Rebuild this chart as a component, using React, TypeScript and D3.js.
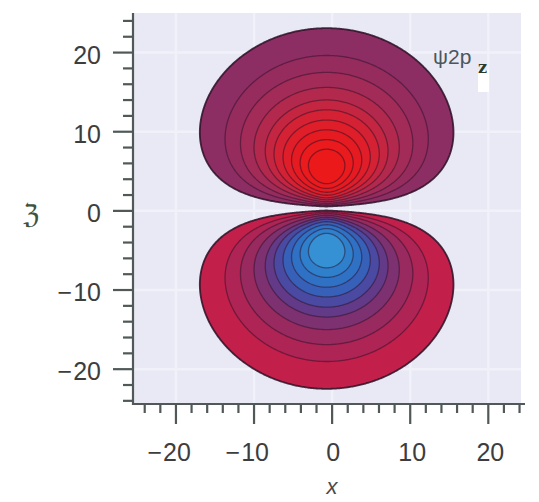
import React, { useMemo } from 'react';
import * as d3 from 'd3';

// ---------- data ----------
const xTickValues = [-20, -10, 0, 10, 20];
const zTickValues = [-20, -10, 0, 10, 20];
const xDomain = [-25.5, 24.7];
const zDomain = [-24.4, 25.0];
// contour levels as fraction of the peak |psi|
const contourLevels = [0.13, 0.22, 0.3, 0.39, 0.48, 0.56, 0.65, 0.74, 0.83, 0.91];
// orbital parameters (same units as the axes)
const orbitalCenterX = -0.7;
const orbitalNodeZ = 0.3;
const orbitalRadius = 5.0;
const orbitalStretchX = 1.03;
const orbitalLabel = 'ψ2p';
const orbitalSub = 'z';
const xTitle = 'x';
const zTitle = 'ℨ';

// ---------- styles ----------
const positiveColors = ['#8c2d63', '#962c5e', '#a32b57', '#b3294d', '#c42642', '#d42234', '#df1e29', '#e61b21', '#ea1a1d', '#ec191b'];
const negativeColors = ['#c21f4b', '#ae2454', '#982a60', '#7e3170', '#623a87', '#4a4aa2', '#3760b8', '#2f72c5', '#2f80cc', '#3590d4'];

const W = 539;
const H = 502;
const plotLeft = 133;
const plotRight = 525;
const plotTop = 13;
const plotBottom = 404;
const tickFont = '"Liberation Sans", Arial, Helvetica, sans-serif';
const tickSize = 25;
const tickColor = '#3d3d3d';

function psi(x: number, z: number) {
  const dx = (x - orbitalCenterX) / orbitalStretchX;
  const dz = z - orbitalNodeZ;
  const r = Math.hypot(dx, dz);
  return (dz / orbitalRadius) * Math.exp(1 - r / orbitalRadius);
}

export default function App() {
  const xScale = d3.scaleLinear().domain(xDomain).range([plotLeft, plotRight]);
  const yScale = d3.scaleLinear().domain(zDomain).range([plotBottom, plotTop]);

  const { posPaths, negPaths } = useMemo(() => {
    const nx = 360;
    const ny = 360;
    const gx = d3.scaleLinear().domain([0, nx]).range(xDomain);
    const gz = d3.scaleLinear().domain([0, ny]).range([zDomain[1], zDomain[0]]);
    const vals = new Array(nx * ny);
    for (let j = 0; j < ny; j++) {
      for (let i = 0; i < nx; i++) {
        vals[j * nx + i] = psi(gx(i + 0.5), gz(j + 0.5));
      }
    }
    const neg = vals.map((v) => -v);
    const gen = d3.contours().size([nx, ny]).thresholds(contourLevels);
    const proj = d3.geoTransform({
      point(px: number, py: number) {
        (this as any).stream.point(xScale(gx(px)), yScale(gz(py)));
      },
    });
    const path = d3.geoPath(proj as any);
    const posPaths = gen(vals).map((c, k) => ({ d: path(c as any) || '', k }));
    const negPaths = gen(neg).map((c, k) => ({ d: path(c as any) || '', k }));
    return { posPaths, negPaths };
  }, []);

  const minorX = d3.range(-24, 25, 2).filter((v) => v % 10 !== 0);
  const minorZ = d3.range(-24, 25, 2).filter((v) => v % 10 !== 0);
  const digitW = tickSize * 0.556;

  const renderContours = (paths: { d: string; k: number }[], colors: string[]) =>
    paths.map((p) => (
      <path
        key={p.k}
        d={p.d}
        fill={colors[p.k]}
        stroke="#2b1026"
        strokeOpacity={p.k === 0 ? 0.85 : 0.5}
        strokeWidth={p.k === 0 ? 1.8 : 1.3}
      />
    ));

  return (
    <svg width={W} height={H} style={{ position: 'absolute', left: 0, top: 0, background: '#fff' }}>
      <defs>
        <clipPath id="panel">
          <rect x={plotLeft} y={plotTop} width={plotRight - plotLeft - 4} height={plotBottom - plotTop} />
        </clipPath>
      </defs>
      <rect x={plotLeft} y={plotTop} width={plotRight - plotLeft - 4} height={plotBottom - plotTop} fill="#e9e9f5" />
      {xTickValues.map((v) => (
        <line key={'gx' + v} x1={xScale(v)} x2={xScale(v)} y1={plotTop} y2={plotBottom} stroke="#f1f1f9" strokeWidth={2.5} />
      ))}
      {zTickValues.map((v) => (
        <line key={'gz' + v} x1={plotLeft} x2={plotRight - 4} y1={yScale(v)} y2={yScale(v)} stroke="#f1f1f9" strokeWidth={2.5} />
      ))}
      <g clipPath="url(#panel)">
        {renderContours(posPaths, positiveColors)}
        {renderContours(negPaths, negativeColors)}
      </g>

      {/* axes */}
      <g stroke="#505858" strokeWidth={2.2}>
        <line x1={plotLeft} x2={plotLeft} y1={plotTop} y2={plotBottom + 1} />
        <line x1={plotLeft - 1} x2={plotRight} y1={plotBottom} y2={plotBottom} />
        {zTickValues.map((v) => (
          <line key={'mz' + v} x1={plotLeft - 20} x2={plotLeft} y1={yScale(v)} y2={yScale(v)} />
        ))}
        {minorZ.map((v) => (
          <line key={'nz' + v} x1={plotLeft - 10} x2={plotLeft} y1={yScale(v)} y2={yScale(v)} />
        ))}
        {xTickValues.map((v) => (
          <line key={'mx' + v} x1={xScale(v)} x2={xScale(v)} y1={plotBottom} y2={plotBottom + 20} />
        ))}
        {minorX.map((v) => (
          <line key={'nx' + v} x1={xScale(v)} x2={xScale(v)} y1={plotBottom} y2={plotBottom + 9} />
        ))}
      </g>

      {/* tick labels */}
      <g fontFamily={tickFont} fontSize={tickSize} fill={tickColor}>
        {zTickValues.map((v) => {
          const digits = String(Math.abs(v));
          const right = 101;
          const y = yScale(v) + 2;
          return (
            <g key={'lz' + v}>
              <text x={right} y={y} textAnchor="end" dominantBaseline="central">{digits}</text>
              {v < 0 && (
                <text x={right - digits.length * digitW - 1} y={y} textAnchor="end" dominantBaseline="central">−</text>
              )}
            </g>
          );
        })}
        {xTickValues.map((v) => {
          const digits = String(Math.abs(v));
          const cx = xScale(v) + (v > 0 ? 2 : 1);
          const y = 452;
          return (
            <g key={'lx' + v}>
              <text x={cx} y={y} textAnchor="middle" dominantBaseline="central">{digits}</text>
              {v < 0 && (
                <text x={cx - (digits.length * digitW) / 2 - 1} y={y} textAnchor="end" dominantBaseline="central">−</text>
              )}
            </g>
          );
        })}
      </g>

      {/* axis titles */}
      <text x={332} y={486} textAnchor="middle" dominantBaseline="central" fontFamily={tickFont} fontStyle="italic" fontSize={22} fill="#4a4a4a">
        {xTitle}
      </text>
      <text x={31} y={214} textAnchor="middle" dominantBaseline="central" fontFamily='"DejaVu Serif", serif' fontSize={28} fill="#3f5240">
        {zTitle}
      </text>

      {/* orbital label */}
      <rect x={478} y={70} width={11} height={22} fill="#ffffff" />
      <text x={433} y={64} fontFamily={tickFont} fontSize={21} fill="#4a5660">
        {orbitalLabel}
      </text>
      <text x={478} y={73} fontFamily='"DejaVu Serif", serif' fontWeight="bold" fontSize={16} fill="#2a3a2c">
        {orbitalSub}
      </text>
    </svg>
  );
}
